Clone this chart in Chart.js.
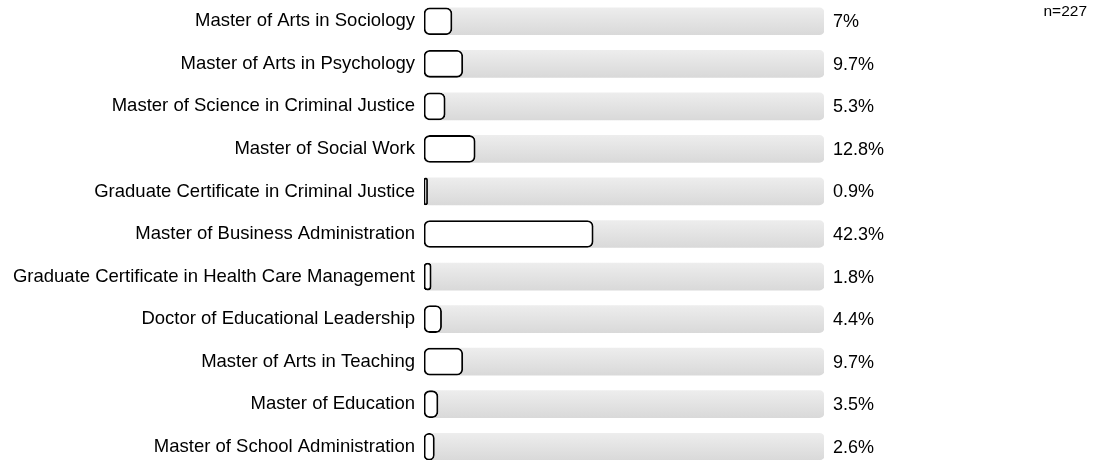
<!DOCTYPE html>
<html>
<head>
<meta charset="utf-8">
<script src="https://cdn.jsdelivr.net/npm/chart.js@4/dist/chart.umd.min.js"></script>
<style>
  html, body { margin: 0; padding: 0; background: #fff; overflow: hidden; }
  #wrap { position: relative; width: 1103px; height: 468px; }
</style>
</head>
<body>
<div id="wrap"><canvas id="chart"></canvas></div>
<script>
// data
const programs = [
  'Master of Arts in Sociology',
  'Master of Arts in Psychology',
  'Master of Science in Criminal Justice',
  'Master of Social Work',
  'Graduate Certificate in Criminal Justice',
  'Master of Business Administration',
  'Graduate Certificate in Health Care Management',
  'Doctor of Educational Leadership',
  'Master of Arts in Teaching',
  'Master of Education',
  'Master of School Administration'
];
const shares = [7, 9.7, 5.3, 12.8, 0.9, 42.3, 1.8, 4.4, 9.7, 3.5, 2.6];
const fullTrack = programs.map(() => 100);
const sampleNote = 'n=227';

const FONT = "Arial, 'Liberation Sans', Helvetica, sans-serif";
const BAR_H = 27;

// grey track with a light vertical gradient
function trackFill(c) {
  const yScale = c.chart.scales.y;
  const y = yScale ? yScale.getPixelForValue(c.dataIndex) : NaN;
  if (!isFinite(y)) return '#e2e2e2';
  const g = c.chart.ctx.createLinearGradient(0, y - BAR_H / 2, 0, y + BAR_H / 2);
  g.addColorStop(0, '#ededed');
  g.addColorStop(1, '#d9d9d9');
  return g;
}

const valueLabels = {
  id: 'valueLabels',
  afterDatasetsDraw(chart) {
    const ctx = chart.ctx;
    const meta = chart.getDatasetMeta(0);
    ctx.save();
    ctx.font = '18px ' + FONT;
    ctx.fillStyle = '#000';
    ctx.textAlign = 'left';
    ctx.textBaseline = 'middle';
    meta.data.forEach((el, i) => {
      ctx.fillText(shares[i] + '%', chart.chartArea.right + 9, el.y + 1);
    });
    ctx.font = '15.5px ' + FONT;
    ctx.textAlign = 'right';
    ctx.fillText(sampleNote, chart.width - 16, 12);
    ctx.restore();
  }
};

new Chart(document.getElementById('chart'), {
  type: 'bar',
  data: {
    labels: programs,
    datasets: [
      {
        data: shares,
        backgroundColor: '#ffffff',
        borderColor: '#000000',
        borderWidth: 1.8,
        borderRadius: 6,
        borderSkipped: false,
        barThickness: BAR_H,
        grouped: false,
        order: 1
      },
      {
        data: fullTrack,
        backgroundColor: trackFill,
        borderWidth: 0,
        borderRadius: 5,
        borderSkipped: false,
        barThickness: BAR_H,
        grouped: false,
        order: 2
      }
    ]
  },
  options: {
    indexAxis: 'y',
    responsive: true,
    maintainAspectRatio: false,
    animation: false,
    layout: { padding: { left: 0, right: 279, top: 0, bottom: 0 } },
    plugins: { legend: { display: false }, tooltip: { enabled: false } },
    scales: {
      x: { display: false, min: 0, max: 100 },
      y: {
        afterFit(s) { s.width = 424; s.paddingTop = 0; s.paddingBottom = 0; },
        grid: { display: false, drawTicks: false },
        border: { display: false },
        ticks: { color: '#000', font: { size: 18.5, family: FONT }, padding: 9 }
      }
    }
  },
  plugins: [valueLabels]
});
</script>
</body>
</html>
